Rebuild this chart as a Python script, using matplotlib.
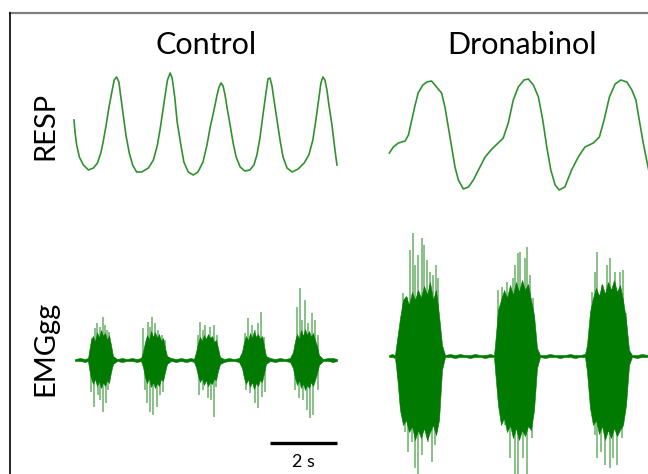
import matplotlib
matplotlib.use("Agg")
import matplotlib.pyplot as plt
from matplotlib.lines import Line2D
import numpy as np

# ---------------- data ----------------
# Respiration traces: time (s) and amplitude (arbitrary units)
resp_ctrl_t = [0.00, 0.03, 0.08, 0.16, 0.28, 0.43, 0.58, 0.70, 0.80, 0.87,
               0.96, 1.04, 1.13, 1.20, 1.27, 1.34, 1.39, 1.47, 1.55, 1.65,
               1.75, 1.87, 2.02, 2.22, 2.37, 2.49, 2.59, 2.69, 2.79, 2.87,
               2.93, 3.01, 3.08, 3.19, 3.28, 3.41, 3.56, 3.70, 3.85, 3.97,
               4.06, 4.18, 4.27, 4.33, 4.39, 4.45, 4.51, 4.57, 4.66, 4.75,
               4.84, 4.96, 5.10, 5.25, 5.37, 5.46, 5.55, 5.64, 5.73, 5.79,
               5.85, 5.91, 5.97, 6.06, 6.15, 6.24, 6.36, 6.51, 6.69, 6.87,
               7.01, 7.13, 7.22, 7.31, 7.37, 7.43, 7.49, 7.55, 7.61, 7.70,
               7.79, 7.85]
resp_ctrl_a = [0.60, 0.48, 0.35, 0.23, 0.15, 0.10, 0.12, 0.17, 0.27, 0.38,
               0.55, 0.72, 0.88, 1.00, 1.03, 0.98, 0.85, 0.65, 0.45, 0.27,
               0.15, 0.08, 0.08, 0.12, 0.20, 0.35, 0.55, 0.78, 1.00, 1.07,
               1.02, 0.82, 0.58, 0.35, 0.18, 0.08, 0.05, 0.08, 0.18, 0.35,
               0.52, 0.70, 0.85, 0.93, 0.97, 0.94, 0.85, 0.72, 0.55, 0.37,
               0.23, 0.13, 0.09, 0.10, 0.15, 0.25, 0.42, 0.65, 0.87, 1.01,
               1.02, 0.94, 0.80, 0.60, 0.40, 0.23, 0.12, 0.08, 0.11, 0.17,
               0.25, 0.40, 0.60, 0.82, 0.97, 1.03, 1.00, 0.90, 0.75, 0.55,
               0.30, 0.15]

resp_drona_t = [0.01, 0.13, 0.28, 0.48, 0.58, 0.68, 0.78, 0.87, 1.01, 1.13,
                1.27, 1.42, 1.57, 1.67, 1.77, 1.87, 1.97, 2.07, 2.22, 2.37,
                2.52, 2.67, 2.87, 3.07, 3.26, 3.41, 3.56, 3.71, 3.86, 4.03,
                4.16, 4.31, 4.46, 4.59, 4.71, 4.83, 4.96, 5.08, 5.25, 5.45,
                5.65, 5.85, 6.10, 6.28, 6.42, 6.58, 6.75, 6.92, 7.10, 7.25,
                7.37, 7.47, 7.59, 7.69, 7.77]
resp_drona_a = [0.47, 0.53, 0.57, 0.59, 0.65, 0.80, 0.95, 1.07, 1.15, 1.18,
                1.19, 1.13, 1.07, 0.93, 0.73, 0.53, 0.33, 0.20, 0.11, 0.13,
                0.20, 0.30, 0.43, 0.51, 0.57, 0.62, 0.77, 1.00, 1.13, 1.20,
                1.21, 1.15, 1.03, 0.80, 0.53, 0.30, 0.15, 0.10, 0.13, 0.30,
                0.43, 0.53, 0.57, 0.63, 0.80, 1.03, 1.16, 1.20, 1.18, 1.10,
                1.00, 0.80, 0.57, 0.40, 0.27]

# EMG traces, digitised at EMG_FS samples per second:
# sample index, upper / lower envelope of the dense activity (a.u.)
EMG_FS = 33.5
emg_ctrl_n = [1, 6, 11, 14,
              15, 17, 19, 21, 23, 25, 27, 29, 31, 33, 35, 37, 39,
              43, 48, 53, 58, 63, 67,
              69, 71, 73, 75, 77, 79, 81, 83, 85, 87, 89, 91, 93,
              97, 102, 107, 112, 117, 120,
              122, 124, 126, 128, 130, 132, 134, 136, 138, 140, 142, 144, 146,
              150, 155, 160, 165,
              168, 170, 172, 174, 176, 178, 180, 182, 184, 186, 188, 190, 192,
              196, 201, 206, 211, 216,
              219, 221, 223, 225, 227, 229, 231, 233, 235, 237, 239, 241, 243, 245,
              249, 254, 259, 263]
emg_ctrl_hi = [1, 2, 1, 2,
               8, 20, 24, 18, 28, 22, 30, 24, 27, 20, 25, 15, 4,
               1, 2, 1, 2, 1, 2,
               8, 18, 25, 20, 29, 23, 28, 22, 26, 19, 22, 12, 4,
               2, 1, 2, 1, 2, 1,
               8, 17, 23, 19, 25, 21, 26, 22, 24, 18, 20, 12, 3,
               1, 2, 1, 2,
               8, 18, 24, 19, 27, 22, 29, 23, 26, 21, 24, 14, 4,
               2, 1, 2, 1, 2,
               8, 19, 26, 21, 30, 24, 31, 25, 29, 23, 27, 20, 14, 5,
               1, 2, 2, 1]
emg_ctrl_lo = [-1, -1, -2, -1,
               -8, -18, -24, -19, -26, -21, -28, -22, -26, -20, -23, -12, -4,
               -1, -2, -1, -1, -2, -1,
               -7, -17, -23, -18, -27, -22, -28, -23, -26, -19, -21, -12, -4,
               -1, -2, -1, -2, -1, -2,
               -7, -16, -22, -18, -25, -20, -26, -22, -24, -19, -20, -11, -4,
               -2, -1, -1, -2,
               -8, -18, -24, -19, -27, -22, -29, -23, -26, -20, -22, -13, -4,
               -1, -2, -1, -1, -2,
               -8, -18, -25, -20, -28, -23, -30, -25, -28, -22, -26, -20, -13, -5,
               -1, -1, -2, -1]

spk_ctrl_up_n = [18, 21, 23, 26, 29, 31, 33, 35,
                 69, 74, 76, 78, 81, 84, 88, 91,
                 124, 126, 129, 131, 136, 140, 143,
                 171, 174, 178, 181, 184, 187, 190,
                 223, 226, 228, 231, 234, 238, 241, 244]
spk_ctrl_up_u = [22, 32, 37, 33, 43, 35, 30, 28,
                 32, 38, 33, 43, 37, 30, 25, 20,
                 25, 38, 30, 35, 33, 35, 25,
                 27, 42, 35, 30, 37, 48, 23,
                 53, 72, 40, 60, 37, 47, 40, 25]
spk_ctrl_dn_n = [17, 20, 24, 26, 29, 32, 34,
                 71, 73, 76, 79, 83, 86, 89,
                 125, 129, 134, 137, 140, 142,
                 172, 176, 181, 184, 188, 191,
                 221, 225, 229, 233, 236, 239, 244]
spk_ctrl_dn_u = [-32, -47, -35, -40, -52, -43, -30,
                 -30, -43, -52, -55, -47, -35, -32,
                 -35, -30, -38, -40, -57, -27,
                 -30, -33, -43, -48, -37, -32,
                 -30, -38, -40, -50, -58, -55, -30]

emg_drona_n = [0, 3, 6,
               8, 11, 14, 17, 20, 23, 26, 29, 32, 35, 38, 41, 44, 47, 50, 53,
               56, 61, 66, 71, 76, 81, 86, 91, 96, 101, 105,
               106, 109, 112, 115, 118, 121, 124, 127, 130, 133, 136, 139, 142, 145, 148,
               151, 156, 161, 166, 171, 176, 181, 186, 191, 196,
               198, 201, 204, 207, 210, 213, 216, 219, 222, 225, 228, 231, 234, 237, 240,
               243, 248, 253, 259]
emg_drona_hi = [1, 2, 1,
                16, 38, 56, 60, 51, 64, 56, 66, 58, 70, 61, 74, 56, 66, 41, 11,
                1, 2, 1, 2, 1, 1, 2, 1, 1, 2, 1,
                11, 46, 56, 66, 58, 71, 61, 74, 64, 76, 66, 72, 56, 41, 8,
                1, 1, 2, 1, 1, 1, 2, 1, 1, 2,
                11, 44, 58, 68, 60, 72, 62, 74, 66, 76, 64, 71, 56, 36, 6,
                1, 1, 2, 1]
emg_drona_lo = [-1, -1, -2,
                -19, -54, -69, -64, -76, -70, -84, -74, -82, -72, -84, -76, -69, -79, -64, -14,
                -1, -1, -2, -1, -1, -2, -1, -1, -2, -1, -1,
                -14, -49, -69, -62, -76, -69, -82, -72, -84, -74, -80, -70, -74, -54, -12,
                -1, -2, -1, -1, -2, -1, -1, -2, -1, -1,
                -16, -52, -69, -64, -78, -70, -84, -74, -82, -72, -80, -74, -69, -49, -9,
                -1, -2, -1, -1]

spk_drona_up_n = [14, 18, 21, 24, 26, 29, 33, 35, 38, 41, 44, 47, 49,
                  109, 113, 118, 124, 126, 129, 131, 136, 138, 141, 144,
                  203, 206, 208, 213, 218, 221, 226, 231, 234, 237]
spk_drona_up_u = [63, 59, 106, 123, 91, 101, 118, 111, 96, 84, 81, 91, 78,
                  66, 69, 74, 78, 91, 103, 104, 98, 109, 81, 58,
                  64, 84, 104, 71, 91, 98, 84, 84, 86, 43]
spk_drona_dn_n = [9, 13, 16, 19, 23, 26, 29, 33, 36, 39, 43, 46, 48,
                  111, 116, 121, 126, 129, 134, 138, 141, 143, 146,
                  203, 206, 208, 212, 216, 219, 221, 224, 228, 233, 236]
spk_drona_dn_u = [-22, -42, -76, -96, -86, -112, -120, -99, -49, -86, -106, -89, -76,
                  -36, -69, -102, -120, -120, -102, -120, -62, -82, -36,
                  -56, -79, -102, -96, -109, -56, -112, -102, -109, -82, -56]

scale_bar_len = 2.0      # seconds
scale_bar_label = "2 s"
col_titles = ["Control", "Dronabinol"]
row_labels = ["RESP", "EMGgg"]

# ---------------- layout ----------------
W, H = 648, 474
fig = plt.figure(figsize=(W / 100, H / 100), dpi=100)
PX_PER_S = 33.5

def make_ax(box, origin, px_per_u):
    """box = (left, top, right, bottom) in px; origin = px position of t=0, a=0."""
    l, t, r, b = box
    x0, y0 = origin
    ax = fig.add_axes([l / W, 1 - b / H, (r - l) / W, (b - t) / H])
    ax.set_xlim((l - x0) / PX_PER_S, (r - x0) / PX_PER_S)
    ax.set_ylim((y0 - b) / px_per_u, (y0 - t) / px_per_u)
    ax.axis("off")
    return ax

RESP_COL = "#2f922f"
EMG_COL = "#007a00"

ax_rc = make_ax((60, 55, 345, 212), (74, 180), 100.0)
ax_rd = make_ax((380, 55, 648, 212), (389, 200), 100.0)
ax_ec = make_ax((60, 215, 345, 474), (74, 360), 1.0)
ax_ed = make_ax((380, 215, 648, 474), (389, 356), 1.0)

ax_rc.plot(resp_ctrl_t, resp_ctrl_a, color=RESP_COL, lw=1.2)
ax_rd.plot(resp_drona_t, resp_drona_a, color=RESP_COL, lw=1.2)

for ax, nn, hi, lo, un, uu, dn, du in [
        (ax_ec, emg_ctrl_n, emg_ctrl_hi, emg_ctrl_lo, spk_ctrl_up_n, spk_ctrl_up_u, spk_ctrl_dn_n, spk_ctrl_dn_u),
        (ax_ed, emg_drona_n, emg_drona_hi, emg_drona_lo, spk_drona_up_n, spk_drona_up_u, spk_drona_dn_n, spk_drona_dn_u)]:
    tt = np.asarray(nn) / EMG_FS
    ax.fill_between(tt, lo, hi, color=EMG_COL, lw=0.4, edgecolor=EMG_COL)
    ax.vlines(np.asarray(un) / EMG_FS, 0, uu, color=EMG_COL, lw=1.2, alpha=0.55)
    ax.vlines(np.asarray(dn) / EMG_FS, du, 0, color=EMG_COL, lw=1.2, alpha=0.55)

# scale bar (in control EMG axes)
sb_start = (270 - 74) / PX_PER_S
ax_ec.plot([sb_start, sb_start + scale_bar_len], [360 - 443, 360 - 443], color="black", lw=2.4,
           solid_capstyle="butt", clip_on=False)
ax_ec.text(sb_start + scale_bar_len / 2, 360 - 462, scale_bar_label,
           ha="center", va="center", fontsize=13, family="Lato")

# titles and row labels
fig.text(206 / W, 1 - 45 / H, col_titles[0], ha="center", va="center", fontsize=22, family="Lato")
fig.text(522 / W, 1 - 45 / H, col_titles[1], ha="center", va="center", fontsize=22, family="Lato")
fig.text(45 / W, 1 - 126 / H, row_labels[0], ha="center", va="center", fontsize=21,
         family="Lato", rotation=90)
fig.text(45 / W, 1 - 348 / H, row_labels[1], ha="center", va="center", fontsize=21,
         family="Lato", rotation=90)

# frame
fig.add_artist(Line2D([10 / W, 1], [1 - 13 / H, 1 - 13 / H], color="#7f7f7f", lw=1.6))
fig.add_artist(Line2D([10 / W, 10 / W], [1 - 13 / H, 0], color="black", lw=1.2))

fig.savefig("out.png", dpi=100)
